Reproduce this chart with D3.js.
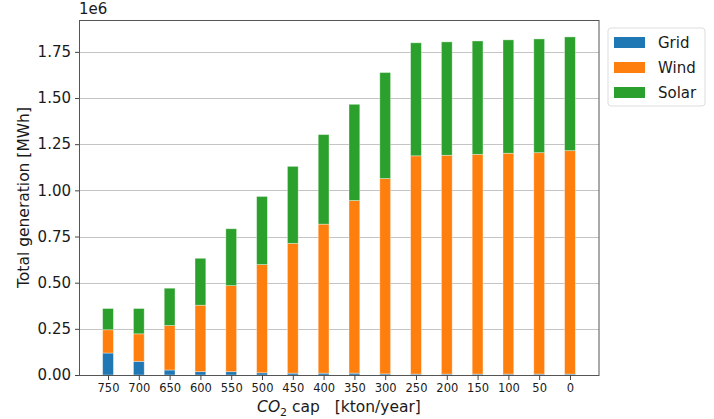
<!DOCTYPE html>
<html>
<head>
<meta charset="utf-8">
<script src="https://cdn.jsdelivr.net/npm/d3@7"></script>
<style>
  body { margin: 0; background: #fff; }
  text { font-family: "DejaVu Sans", sans-serif; fill: #1a1a1a; }
  .axis path, .axis line { stroke: #444; }
  .grid line { stroke: #c4c4c4; stroke-width: 1; }
</style>
</head>
<body>
<div id="graph"></div>
<script>
// CO2 caps [kton/year]
var caps  = ['750', '700', '650', '600', '550', '500', '450', '400', '350', '300', '250', '200', '150', '100', '50', '0'];
// generation per source [MWh]
var grid  = [0.119e6, 0.074e6, 0.027e6, 0.018e6, 0.018e6, 0.012e6, 0.010e6, 0.010e6, 0.010e6, 0.006e6, 0.005e6, 0.005e6, 0.005e6, 0.005e6, 0.005e6, 0.005e6];
var wind  = [0.126e6, 0.149e6, 0.241e6, 0.360e6, 0.466e6, 0.586e6, 0.703e6, 0.807e6, 0.935e6, 1.058e6, 1.182e6, 1.185e6, 1.190e6, 1.196e6, 1.199e6, 1.210e6];
var solar = [0.115e6, 0.137e6, 0.202e6, 0.254e6, 0.308e6, 0.369e6, 0.417e6, 0.485e6, 0.521e6, 0.574e6, 0.612e6, 0.614e6, 0.614e6, 0.614e6, 0.616e6, 0.616e6];
var yTicks = [0, 0.25e6, 0.5e6, 0.75e6, 1.0e6, 1.25e6, 1.5e6, 1.75e6];

var series = ['Grid', 'Wind', 'Solar'];
var colors = ['#1f77b4', '#ff7f0e', '#2ca02c'];

var margin = { top: 20, right: 115, bottom: 44, left: 79 };
var W = 714, H = 419;
var width  = W - margin.left - margin.right;
var height = H - margin.top - margin.bottom;

var table = caps.map(function (c, i) {
    return { cap: c, Grid: grid[i], Wind: wind[i], Solar: solar[i] };
});
var stacked = d3.stack().keys(series)(table);

var barW = 0.35;
var xScale = d3.scaleLinear()
               .domain([-0.5 * barW - 0.7675, caps.length - 1 + 0.5 * barW + 0.7675])
               .range([0, width]);

var maxTotal = d3.max(table, function (d) { return d.Grid + d.Wind + d.Solar; });
var yScale = d3.scaleLinear()
               .domain([0, maxTotal * 1.05])
               .range([height, 0]);

var svg = d3.select('div#graph')
            .append('svg')
            .attr('width', W)
            .attr('height', H)
            .append('g')
            .attr('transform', 'translate(' + margin.left + ',' + margin.top + ')');

// horizontal grid
svg.append('g')
   .attr('class', 'grid')
   .selectAll('line')
   .data(yTicks)
   .enter().append('line')
   .attr('x1', 0).attr('x2', width)
   .attr('y1', function (d) { return Math.round(yScale(d)) + 0.5; })
   .attr('y2', function (d) { return Math.round(yScale(d)) + 0.5; });

// bars
var barPx = xScale(barW) - xScale(0);
svg.selectAll('g.layer')
   .data(stacked)
   .enter().append('g')
   .attr('class', 'layer')
   .attr('fill', function (d, i) { return colors[i]; })
   .selectAll('rect')
   .data(function (d) { return d; })
   .enter().append('rect')
   .attr('x', function (d, i) { return xScale(i) - barPx / 2; })
   .attr('width', barPx)
   .attr('y', function (d) { return yScale(d[1]); })
   .attr('height', function (d) { return yScale(d[0]) - yScale(d[1]); })
   .attr('stroke', '#fff')
   .attr('stroke-opacity', 0.45)
   .attr('stroke-width', 0.8);

// frame
svg.append('rect')
   .attr('x', 0.5).attr('y', 0.5)
   .attr('width', width - 0.5).attr('height', height)
   .attr('fill', 'none')
   .attr('stroke', '#555')
   .attr('stroke-width', 1);

// axes
var yAxis = d3.axisLeft(yScale)
              .tickValues(yTicks)
              .tickSize(4)
              .tickPadding(4)
              .tickFormat(function (d) { return (d / 1e6).toFixed(2); });

var yg = svg.append('g')
   .attr('class', 'y axis')
   .call(yAxis);
yg.select('.domain').remove();
yg.selectAll('text').style('font-size', '15px');

var xAxis = d3.axisBottom(xScale)
              .tickValues(d3.range(caps.length))
              .tickSize(5)
              .tickPadding(4)
              .tickFormat(function (i) { return caps[i]; });

var xg = svg.append('g')
   .attr('class', 'x axis')
   .attr('transform', 'translate(0,' + height + ')')
   .call(xAxis);
xg.select('.domain').remove();
xg.selectAll('text').style('font-size', '11.5px');

// offset label
svg.append('text')
   .attr('x', 0)
   .attr('y', -6)
   .style('font-size', '15px')
   .text('1e6');

// axis labels
svg.append('text')
   .style('text-anchor', 'middle')
   .attr('transform', 'rotate(-90)')
   .attr('x', -height / 2)
   .attr('y', -margin.left + 29)
   .style('font-size', '15.5px')
   .text('Total generation [MWh]');

var xl = svg.append('text')
   .style('text-anchor', 'middle')
   .attr('x', width / 2)
   .attr('y', height + 37)
   .style('font-size', '15.5px');
xl.append('tspan').style('font-style', 'italic').text('CO');
xl.append('tspan').attr('dy', 4).style('font-size', '11px').text('2');
xl.append('tspan').attr('dy', -4).attr('xml:space', 'preserve').text(' cap   [kton/year]');

// legend
var lg = svg.append('g')
   .attr('transform', 'translate(' + (width + 9) + ',8)');

lg.append('rect')
  .attr('width', 97).attr('height', 78)
  .attr('rx', 3)
  .attr('fill', '#fff')
  .attr('stroke', '#ddd');

series.forEach(function (s, i) {
    lg.append('rect')
      .attr('x', 6).attr('y', 9 + i * 25)
      .attr('width', 31).attr('height', 11)
      .attr('fill', colors[i]);
    lg.append('text')
      .attr('x', 50).attr('y', 20 + i * 25)
      .style('font-size', '15px')
      .text(s);
});
</script>
</body>
</html>
